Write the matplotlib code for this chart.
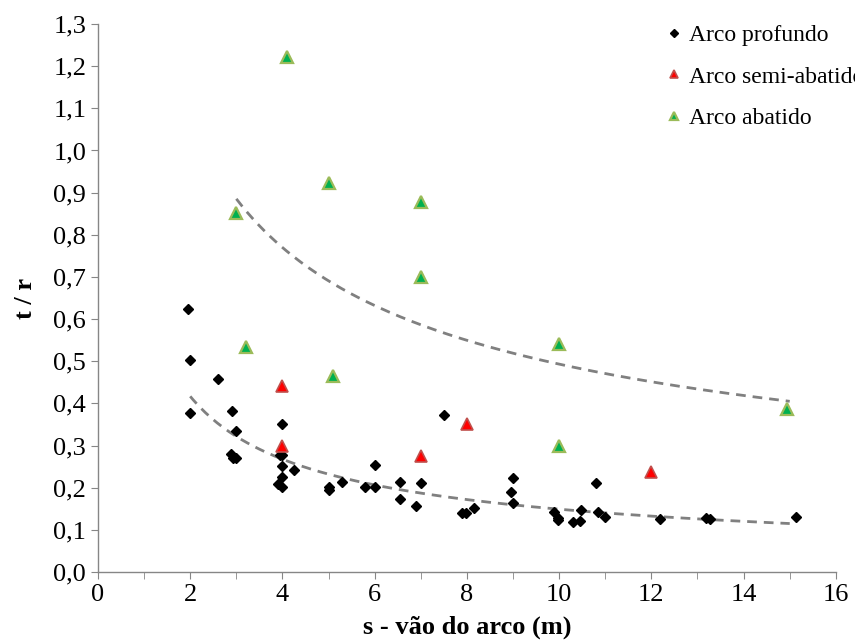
import numpy as np
import matplotlib
matplotlib.use("Agg")
import matplotlib.pyplot as plt
from matplotlib.ticker import MultipleLocator, FuncFormatter

# Arco profundo (pontos pretos)
s_profundo = [1.95, 2.0, 2.0, 2.6, 2.9, 3.0, 2.88, 2.92, 3.0, 3.94, 4.0, 4.0, 4.0,
              4.0, 4.24, 3.9, 4.0, 5.0, 5.0, 5.3, 5.8, 6.0, 6.0, 6.55, 6.55, 7.0,
              6.9, 7.5, 7.89, 7.99, 8.15, 8.99, 8.95, 8.99, 9.89, 9.98, 9.98,
              10.29, 10.45, 10.48, 10.79, 10.85, 11.0, 12.19, 13.19, 13.28, 15.14]
tr_profundo = [0.625, 0.503, 0.377, 0.457, 0.382, 0.334, 0.28, 0.27, 0.27, 0.277,
               0.277, 0.351, 0.252, 0.226, 0.242, 0.209, 0.202, 0.202, 0.195, 0.213,
               0.202, 0.202, 0.254, 0.214, 0.173, 0.211, 0.157, 0.373, 0.139, 0.139,
               0.153, 0.224, 0.189, 0.163, 0.143, 0.129, 0.123, 0.119, 0.122, 0.147,
               0.212, 0.142, 0.13, 0.126, 0.127, 0.125, 0.131]

# Arco semi-abatido
s_semi = [4.0, 4.0, 7.0, 8.0, 12.0]
tr_semi = [0.441, 0.300, 0.276, 0.350, 0.238]

# Arco abatido
s_abatido = [4.1, 5.0, 7.0, 3.0, 7.0, 3.2, 5.1, 10.0, 10.0, 14.95]
tr_abatido = [1.222, 0.924, 0.877, 0.852, 0.701, 0.534, 0.465, 0.541, 0.300, 0.387]

# linhas de tendencia (potencia): y = a * s^b, entre s0 e s1
tend_profundo = (0.649, -0.639, 2.0, 15.0)
tend_abatido = (1.51, -0.486, 3.0, 15.0)

plt.rcParams['font.family'] = ['Liberation Serif', 'DejaVu Serif']

fig = plt.figure(figsize=(8.55, 6.42), dpi=100)
ax = fig.add_axes([0.1146, 0.109, 0.863, 0.8536])

for a, b, s0, s1 in (tend_profundo, tend_abatido):
    xs = np.linspace(s0, s1, 200)
    ax.plot(xs, a * xs ** b, ls=(0, (3.5, 2.5)), color='#808080', lw=2, zorder=1)

ax.plot(s_profundo, tr_profundo, ls='none', marker='D', ms=5, color='black',
        label='Arco profundo', zorder=3)
ax.plot(s_semi, tr_semi, ls='none', marker='^', ms=8, mfc='#ff0000', mec='#c0504d',
        mew=1.2, label='Arco semi-abatido', zorder=3)
ax.plot(s_abatido, tr_abatido, ls='none', marker='^', ms=8, mfc='#00b050', mec='#9bbb59',
        mew=1.6, label='Arco abatido', zorder=3)

ax.set_xlim(0, 16)
ax.set_ylim(0, 1.3)
ax.xaxis.set_major_locator(MultipleLocator(2))
ax.xaxis.set_minor_locator(MultipleLocator(1))
ax.yaxis.set_major_locator(MultipleLocator(0.1))
ax.yaxis.set_major_formatter(FuncFormatter(lambda v, p: ('%.1f' % v).replace('.', ',')))

for side in ('top', 'right'):
    ax.spines[side].set_visible(False)
for side in ('left', 'bottom'):
    ax.spines[side].set_color('#868686')
    ax.spines[side].set_linewidth(1)
ax.tick_params(which='both', direction='out', color='#868686', labelsize=19)
ax.tick_params(which='major', length=5)
ax.tick_params(which='minor', length=5)

ax.set_xlabel('s - vão do arco (m)', fontsize=19, fontweight='bold', labelpad=7)
ax.set_ylabel('t / r', fontsize=19, fontweight='bold', labelpad=12)

leg = fig.legend(loc='upper left', bbox_to_anchor=(0.775, 0.962), frameon=False,
                 fontsize=17, handletextpad=0.1, labelspacing=0.85, markerscale=0.75,
                 handlelength=1.0, borderpad=0, borderaxespad=0)

fig.savefig('out.png', dpi=100)
